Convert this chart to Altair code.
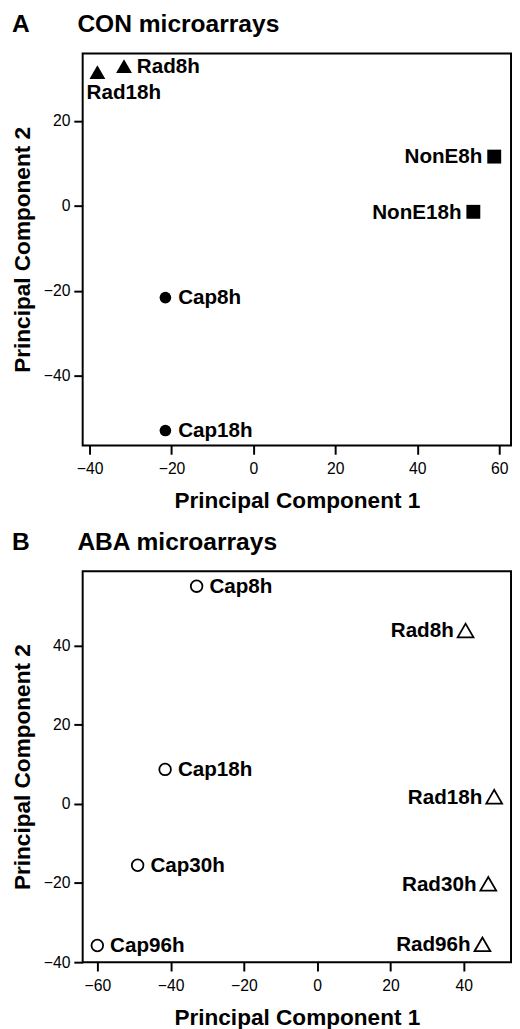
import altair as alt
import pandas as pd

FONT = "Liberation Sans"

# ---- Panel A: CON microarrays ----
con_sample = ["Rad18h", "Rad8h", "NonE8h", "NonE18h", "Cap8h", "Cap18h"]
con_group = ["Rad", "Rad", "NonE", "NonE", "Cap", "Cap"]
con_pc1 = [-38.1, -31.6, 58.8, 53.7, -21.5, -21.5]
con_pc2 = [31.5, 32.9, 11.6, -1.4, -21.6, -52.9]

# ---- Panel B: ABA microarrays ----
aba_sample = ["Cap8h", "Cap18h", "Cap30h", "Cap96h", "Rad8h", "Rad18h", "Rad30h", "Rad96h"]
aba_group = ["Cap", "Cap", "Cap", "Cap", "Rad", "Rad", "Rad", "Rad"]
aba_pc1 = [-32.9, -41.5, -49.0, -60.0, 40.5, 48.3, 46.7, 45.1]
aba_pc2 = [55.0, 8.7, -15.5, -35.8, 43.8, 1.8, -20.2, -35.5]

con_ticks_x = [-40, -20, 0, 20, 40, 60]
con_ticks_y = [-40, -20, 0, 20]
aba_ticks_x = [-60, -40, -20, 0, 20, 40]
aba_ticks_y = [-40, -20, 0, 20, 40]

con_df = pd.DataFrame({"sample": con_sample, "group": con_group, "pc1": con_pc1, "pc2": con_pc2})
aba_df = pd.DataFrame({"sample": aba_sample, "group": aba_group, "pc1": aba_pc1, "pc2": aba_pc2})

W = 436
NB = "\u00a0" * 7


def panel(df, title, xdom, ydom, xticks, yticks, height, shapes, sizes, filled,
          right_labels, left_labels, below_labels):
    x = alt.X("pc1:Q", title="Principal Component 1",
              scale=alt.Scale(domain=xdom, nice=False, zero=False),
              axis=alt.Axis(values=xticks))
    y = alt.Y("pc2:Q", title="Principal Component 2",
              scale=alt.Scale(domain=ydom, nice=False, zero=False),
              axis=alt.Axis(values=yticks))
    base = alt.Chart(df).encode(x=x, y=y)
    if filled:
        pts = base.mark_point(filled=True, opacity=1, color="black")
    else:
        pts = base.mark_point(filled=False, opacity=1, color="black", fill="white",
                              strokeWidth=1.8)
    groups = list(shapes.keys())
    pts = pts.encode(
        shape=alt.Shape("group:N", scale=alt.Scale(domain=groups, range=[shapes[g] for g in groups]),
                        legend=None),
        size=alt.Size("group:N", scale=alt.Scale(domain=groups, range=[sizes[g] for g in groups]),
                      legend=None),
    )
    txt = dict(font=FONT, fontSize=21, fontWeight="bold", color="black", baseline="middle")
    layers = [pts]
    if right_labels:
        layers.append(base.mark_text(align="left", dx=13, dy=1, **txt)
                      .encode(text="sample:N")
                      .transform_filter(alt.FieldOneOfPredicate(field="sample", oneOf=right_labels)))
    if left_labels:
        layers.append(base.mark_text(align="right", dx=-12, dy=1, **txt)
                      .encode(text="sample:N")
                      .transform_filter(alt.FieldOneOfPredicate(field="sample", oneOf=left_labels)))
    if below_labels:
        layers.append(base.mark_text(align="left", dx=-11, dy=21, **txt)
                      .encode(text="sample:N")
                      .transform_filter(alt.FieldOneOfPredicate(field="sample", oneOf=below_labels)))
    return alt.layer(*layers).properties(
        width=W, height=height,
        title=alt.TitleParams(text=title, anchor="start", frame="group", dx=-72,
                              font=FONT, fontSize=25, fontWeight="bold", color="black",
                              baseline="bottom", offset=-8),
    )


A = panel(con_df, "A" + NB + "CON microarrays",
          [-41.7, 62.9], [-56.4, 35.9], con_ticks_x, con_ticks_y, 399,
          {"Rad": "triangle-up", "NonE": "square", "Cap": "circle"},
          {"Rad": 260, "NonE": 140, "Cap": 140}, True,
          ["Rad8h", "Cap8h", "Cap18h"], ["NonE8h", "NonE18h"], ["Rad18h"])

B = panel(aba_df, "B" + NB + "ABA microarrays",
          [-64.0, 52.9], [-40.0, 58.8], aba_ticks_x, aba_ticks_y, 398,
          {"Cap": "circle", "Rad": "triangle-up"},
          {"Cap": 70, "Rad": 270}, False,
          ["Cap8h", "Cap18h", "Cap30h", "Cap96h"], ["Rad8h", "Rad18h", "Rad30h", "Rad96h"], [])

chart = alt.vconcat(A, B, spacing=16).properties(
    padding={"left": 2, "top": -6, "right": 0, "bottom": 0}
).configure_view(
    stroke="black", strokeWidth=2
).configure_axis(
    domain=False, grid=False, ticks=True, tickColor="black", tickWidth=2, tickSize=9,
    labelFont=FONT, labelFontSize=16, labelColor="black", labelPadding=4,
    titleFont=FONT, titleFontSize=23, titleFontWeight="bold", titleColor="black",
).configure_axisX(labelPadding=7, titlePadding=13).configure_axisY(titlePadding=9)

chart.save("out.html", embed_options={"renderer": "svg", "actions": False})
